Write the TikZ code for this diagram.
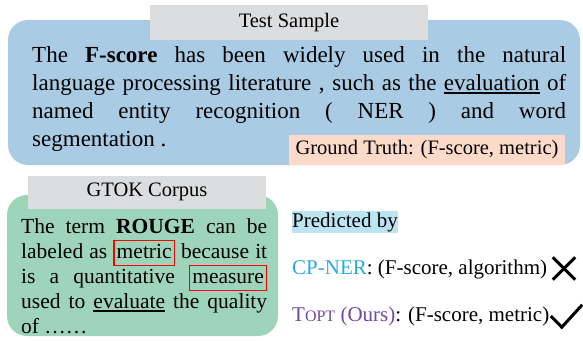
\documentclass[tikz,border=0pt]{standalone}
\usepackage{fontspec}
\setmainfont{Liberation Serif}
\usepackage{tikz}
\setlength{\parindent}{0pt}

\definecolor{sampleblue}{RGB}{169,203,227}
\definecolor{corpusgreen}{RGB}{157,212,186}
\definecolor{headgray}{RGB}{220,221,223}
\definecolor{truthpink}{RGB}{252,218,202}
\definecolor{predblue}{RGB}{189,229,241}
\definecolor{cpcyan}{RGB}{41,170,225}
\definecolor{toptpurple}{RGB}{112,72,160}

\newsavebox{\ubox}
\newcommand{\uword}[1]{\sbox{\ubox}{#1}\rlap{\rule[-3.5pt]{\wd\ubox}{1.5pt}}\usebox{\ubox}}
\newcommand{\redword}[1]{{\setlength{\fboxsep}{2pt}\setlength{\fboxrule}{1.3pt}%
  \textcolor{red}{\smash{\fbox{\textcolor{black}{\vphantom{hg}#1}}}}}}

\begin{document}
\begin{tikzpicture}[x=1pt,y=-1pt]
        \tikzstyle{panel} = [rectangle, rounded corners=20pt, inner sep=0pt]
        \tikzstyle{hd}    = [rectangle, fill=headgray, inner sep=0pt,
                                          font=\fontsize{20.5}{24}\selectfont]
        \tikzstyle{txt}   = [inner sep=0pt, anchor=north west, align=justify]
        \tikzstyle{pred}  = [inner sep=0pt, anchor=base west,
                                          font=\fontsize{21}{25}\selectfont]

        \useasboundingbox (0,0) rectangle (583,340);

        % test sample
        \node(sample)    [panel, fill=sampleblue, minimum width=572pt,
                          minimum height=145pt] at (294,92.5) {};
        \node(samplehd)  [hd, minimum width=278pt, minimum height=35pt]
                          at (289,22.5) {Test Sample};
        \node(sampletxt) [txt, text width=534pt, font=\fontsize{23}{28}\selectfont]
                          at (32,46) {The \textbf{F-score} has been widely used in the natural\linebreak
                          language processing literature , such as the \uword{evaluation} of\linebreak
                          named entity recognition ( NER ) and word\linebreak
                          segmentation .};
        \node(truth)     [fill=truthpink, inner sep=0pt, minimum width=276pt,
                          minimum height=30pt, font=\fontsize{20.5}{24}\selectfont]
                          at (427,150) {Ground Truth: (F-score, metric)};

        % corpus
        \node(corpus)    [panel, fill=corpusgreen, minimum width=271pt,
                          minimum height=141pt] at (142.5,265.5) {};
        \node(corpushd)  [hd, minimum width=238pt, minimum height=33pt]
                          at (147,192) {GTOK Corpus};
        \node(corpustxt) [txt, text width=246pt, font=\fontsize{21.5}{25}\selectfont]
                          at (21,218) {The term \textbf{ROUGE} can be\linebreak
                          labeled as \redword{metric} because it\linebreak
                          is a quantitative \redword{measure}\linebreak
                          used to \uword{evaluate} the quality\linebreak
                          of ……};

        % predictions
        \node(predhd)    [pred, fill=predblue, text height=16pt, text depth=6pt]
                          at (292,227) {Predicted by};
        \node(cpner)     [pred] at (292,274)
                          {\textcolor{cpcyan}{CP-NER}: (F-score, algorithm)};
        \node(topt)      [pred] at (292,321)
                          {\textcolor{toptpurple}{T{\fontsize{16}{16}\selectfont OPT} (Ours)}: (F-score, metric)};
        \node(cross)     [inner sep=0pt, minimum size=22pt] at (564,268.5) {};
        \node(tick)      [inner sep=0pt, minimum width=31pt, minimum height=22pt]
                          at (566.5,316) {};

        \draw[line width=3pt] (cross.north west) -- (cross.south east);
        \draw[line width=3pt] (cross.north east) -- (cross.south west);
        \draw[line width=3pt] (tick.west) -- ([xshift=11pt]tick.south west) -- (tick.north east);
      \end{tikzpicture}
\end{document}
